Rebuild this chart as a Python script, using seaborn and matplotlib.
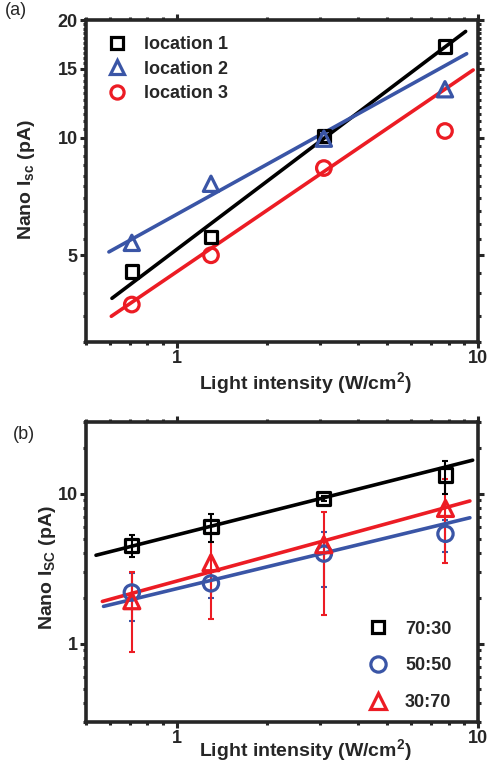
import numpy as np
import pandas as pd
import seaborn as sns
import matplotlib
matplotlib.use("Agg")
import matplotlib.pyplot as plt
from matplotlib.lines import Line2D
from matplotlib.ticker import FixedLocator, NullFormatter

# ---------------- data ----------------
x_a = [0.71, 1.30, 3.08, 7.77]
loc1 = [4.55, 5.57, 10.1, 17.1]
loc2 = [5.38, 7.62, 9.94, 13.3]
loc3 = [3.74, 5.0, 8.36, 10.4]
labels_a = ["location 1", "location 2", "location 3"]
# fitted power-law lines (end points)
fit1_x, fit1_y = [0.61, 9.1], [3.88, 18.7]
fit2_x, fit2_y = [0.596, 9.17], [5.1, 16.4]
fit3_x, fit3_y = [0.607, 9.64], [3.49, 14.9]

x_b = [0.71, 1.30, 3.08, 7.8]
r7030 = [4.52, 6.03, 9.27, 13.3]
e7030 = [0.75, 1.3, 0.3, 3.3]
r5050 = [2.19, 2.52, 3.98, 5.39]
e5050 = [0.78, 0.5, 1.6, 1.3]
r3070 = [1.93, 3.46, 4.56, 7.96]
e3070 = [1.05, 2.0, 3.0, 4.5]
labels_b = ["70:30", "50:50", "30:70"]
fitb1_x, fitb1_y = [0.54, 9.6], [3.88, 16.7]
fitb2_x, fitb2_y = [0.572, 9.4], [1.77, 6.9]
fitb3_x, fitb3_y = [0.567, 9.4], [1.91, 8.93]

xticks = [1, 10]
xticklabels = ["1", "10"]
yticks_a = [5, 10, 15, 20]
yticklabels_a = ["5", "10", "15", "20"]
yticks_b = [1, 10]
yticklabels_b = ["1", "10"]

# ---------------- style ----------------
sns.set_style("ticks")
plt.rcParams["font.family"] = ["Liberation Sans", "DejaVu Sans"]
plt.rcParams["font.weight"] = "bold"
plt.rcParams["mathtext.fontset"] = "custom"
plt.rcParams["mathtext.rm"] = "Liberation Sans"
plt.rcParams["mathtext.bf"] = "Liberation Sans:bold"

BLACK = "#000000"
BLUE = "#3a55a6"
RED = "#ec1c24"
LW = 2.6
MEW = 2.3

fig = plt.figure(figsize=(4.91, 7.64), dpi=100)
ax_a = fig.add_axes([0.175, 0.5524, 0.7985, 0.4214])
ax_b = fig.add_axes([0.175, 0.055, 0.7985, 0.3926])


def style_axis(ax):
    ax.set_xscale("log")
    ax.set_yscale("log")
    for s in ax.spines.values():
        s.set_linewidth(2.6)
        s.set_visible(True)
    ax.tick_params(which="both", direction="out", top=True, right=True,
                   width=2.2, labelsize=13)
    ax.tick_params(which="major", length=4, pad=2)
    ax.tick_params(which="minor", length=2.2)
    ax.set_xlim(0.5, 10)
    ax.xaxis.set_major_locator(FixedLocator(xticks))
    ax.set_xticklabels(xticklabels, fontweight="bold")
    ax.xaxis.set_minor_locator(FixedLocator([0.5, 0.6, 0.7, 0.8, 0.9, 2, 3, 4, 5, 6, 7, 8, 9]))
    ax.xaxis.set_minor_formatter(NullFormatter())


def fit_line(ax, fx, fy, color):
    d = pd.DataFrame({"x": fx, "y": fy})
    sns.lineplot(data=d, x="x", y="y", ax=ax, color=color, lw=LW, zorder=3)


def points(ax, xs, ys, marker, size, color):
    d = pd.DataFrame({"x": xs, "y": ys})
    sns.scatterplot(data=d, x="x", y="y", ax=ax, marker=marker, s=size ** 2,
                    facecolor="none", edgecolor=color, linewidth=MEW, zorder=4)


# ---------------- panel (a) ----------------
style_axis(ax_a)
fit_line(ax_a, fit1_x, fit1_y, BLACK)
fit_line(ax_a, fit2_x, fit2_y, BLUE)
fit_line(ax_a, fit3_x, fit3_y, RED)
points(ax_a, x_a, loc1, "s", 9, BLACK)
points(ax_a, x_a, loc2, "^", 11, BLUE)
points(ax_a, x_a, loc3, "o", 10.5, RED)
ax_a.set_ylim(3, 20)
ax_a.yaxis.set_major_locator(FixedLocator(yticks_a))
ax_a.set_yticklabels(yticklabels_a, fontweight="bold")
ax_a.yaxis.set_minor_locator(FixedLocator(list(np.arange(3, 20.01, 0.5))))
ax_a.yaxis.set_minor_formatter(NullFormatter())

h_a = [Line2D([], [], ls="none", marker="s", ms=8, mfc="none", mec=BLACK, mew=MEW),
       Line2D([], [], ls="none", marker="^", ms=10, mfc="none", mec=BLUE, mew=MEW),
       Line2D([], [], ls="none", marker="o", ms=9.5, mfc="none", mec=RED, mew=MEW)]
ax_a.legend(h_a, labels_a, loc="upper left", bbox_to_anchor=(0.056, 0.95),
            frameon=False, borderpad=0, borderaxespad=0, handlelength=1.0,
            handletextpad=1.0, labelspacing=0.42, prop={"size": 13, "weight": "bold"})
ax_a.set_xlabel("Light intensity (W/cm$^\\mathbf{2}$)", fontsize=14, fontweight="bold")
ax_a.set_ylabel("Nano I$_{\\mathbf{sc}}$ (pA)", fontsize=14, fontweight="bold")
ax_a.xaxis.set_label_coords(0.56, -0.088)
ax_a.yaxis.set_label_coords(-0.125, 0.506)

# ---------------- panel (b) ----------------
style_axis(ax_b)
ebkw = dict(fmt="none", elinewidth=1.5, capsize=2.5, capthick=1.5, zorder=2)
ax_b.errorbar(x_b, r5050, yerr=e5050, ecolor=BLUE, **ebkw)
ax_b.errorbar(x_b, r3070, yerr=e3070, ecolor=RED, **ebkw)
ax_b.errorbar(x_b, r7030, yerr=e7030, ecolor=BLACK, **ebkw)
fit_line(ax_b, fitb2_x, fitb2_y, BLUE)
fit_line(ax_b, fitb3_x, fitb3_y, RED)
fit_line(ax_b, fitb1_x, fitb1_y, BLACK)
points(ax_b, x_b, r5050, "o", 11, BLUE)
points(ax_b, x_b, r3070, "^", 11.5, RED)
points(ax_b, x_b, r7030, "s", 9.5, BLACK)
ax_b.set_ylim(0.3, 30)
ax_b.yaxis.set_major_locator(FixedLocator(yticks_b))
ax_b.set_yticklabels(yticklabels_b, fontweight="bold")
ax_b.yaxis.set_minor_locator(FixedLocator([0.3, 0.4, 0.5, 0.6, 0.7, 0.8, 0.9, 2, 3, 4, 5, 6, 7, 8, 9, 20, 30]))
ax_b.yaxis.set_minor_formatter(NullFormatter())

h_b = [Line2D([], [], ls="none", marker="s", ms=9, mfc="none", mec=BLACK, mew=MEW),
       Line2D([], [], ls="none", marker="o", ms=11, mfc="none", mec=BLUE, mew=MEW),
       Line2D([], [], ls="none", marker="^", ms=11.5, mfc="none", mec=RED, mew=MEW)]
ax_b.legend(h_b, labels_b, loc="upper left", bbox_to_anchor=(0.722, 0.338),
            frameon=False, borderpad=0, borderaxespad=0, handlelength=1.0,
            handletextpad=1.0, labelspacing=1.1, prop={"size": 13, "weight": "bold"})
ax_b.set_xlabel("Light intensity (W/cm$^\\mathbf{2}$)", fontsize=14, fontweight="bold")
ax_b.set_ylabel("Nano I$_{\\mathbf{SC}}$ (pA)", fontsize=14, fontweight="bold")
ax_b.xaxis.set_label_coords(0.56, -0.05)
ax_b.yaxis.set_label_coords(-0.072, 0.513)

fig.text(5 / 491, 1 - 2 / 764, "(a)", fontsize=13, fontweight="normal", va="top", ha="left")
fig.text(13 / 491, 1 - 426 / 764, "(b)", fontsize=13, fontweight="normal", va="top", ha="left")

fig.savefig("out.png", dpi=100)
